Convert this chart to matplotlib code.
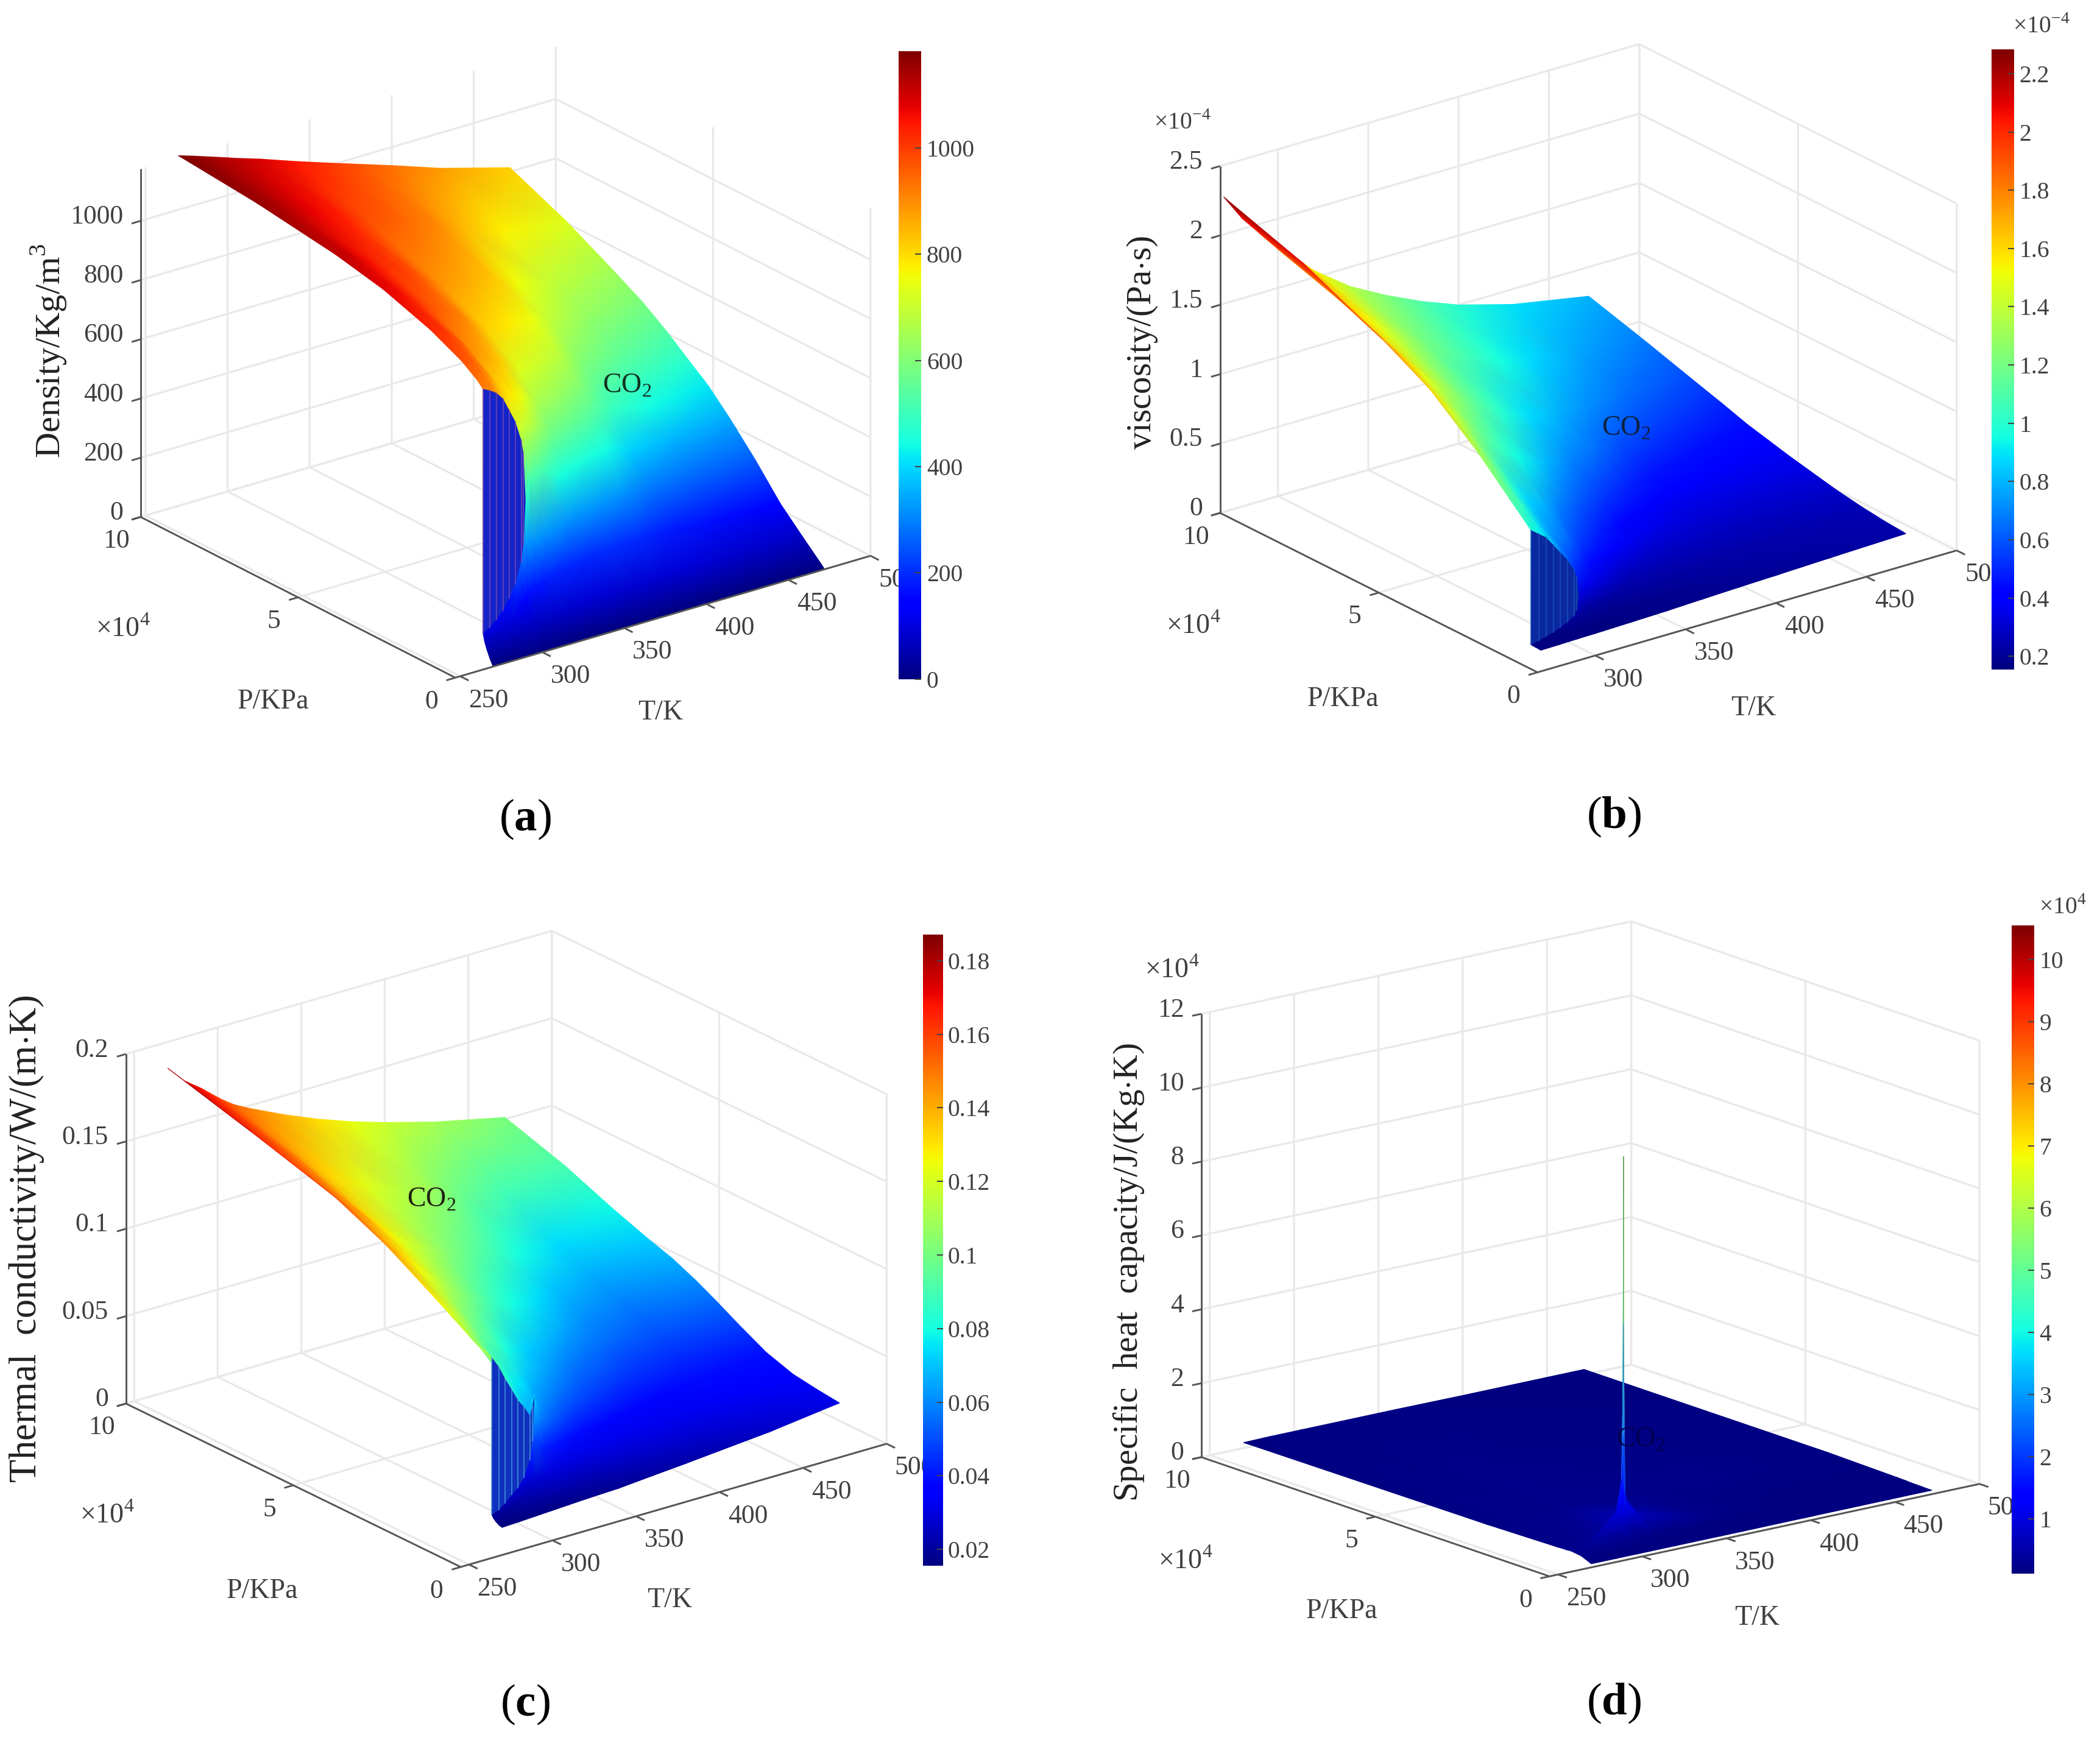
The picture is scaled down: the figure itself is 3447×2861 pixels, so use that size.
import numpy as np
import matplotlib
matplotlib.use('Agg')
import matplotlib.pyplot as plt
from matplotlib.colors import Normalize
from matplotlib.cm import ScalarMappable
from mpl_toolkits.mplot3d import proj3d

plt.rcParams['font.family'] = ['Liberation Serif', 'DejaVu Serif']
plt.rcParams['mathtext.fontset'] = 'custom'
plt.rcParams['mathtext.rm'] = 'Liberation Serif'
plt.rcParams['mathtext.bf'] = 'Liberation Serif:bold'
plt.rcParams['grid.color'] = '#e9e9e9'
plt.rcParams['grid.linewidth'] = 0.8

# mesh shared by density, viscosity and conductivity: one row of pressures per
# temperature, columns 4 and 5 sit on either side of the saturation jump
T_grid = [270, 280, 290, 300, 304, 310, 320, 340, 360, 380, 400, 430, 472]
P_grid = [
    [100, 1000, 2000, 2700, 3200, 3210, 5000, 10000, 20000, 35000, 50000, 75000, 100000],
    [100, 1000, 2000, 3300, 4160, 4170, 6000, 11000, 20000, 35000, 50000, 75000, 100000],
    [100, 1000, 2500, 4300, 5320, 5330, 7000, 12000, 20000, 35000, 50000, 75000, 100000],
    [100, 1000, 3000, 5400, 6700, 6710, 8500, 13000, 22000, 35000, 50000, 75000, 100000],
    [100, 1000, 3000, 6000, 7300, 7400, 9000, 13000, 22000, 35000, 50000, 75000, 100000],
    [100, 1000, 3500, 6500, 8000, 8800, 10500, 14000, 22000, 35000, 50000, 75000, 100000],
    [100, 1000, 4000, 7500, 9300, 10800, 13000, 17000, 24000, 35000, 50000, 75000, 100000],
    [100, 1000, 5000, 9000, 12000, 15000, 18000, 22000, 28000, 38000, 52000, 75000, 100000],
    [100, 1000, 5000, 10000, 14000, 18000, 22000, 26000, 32000, 42000, 55000, 75000, 100000],
    [100, 1000, 5500, 11000, 16000, 21000, 26000, 30000, 36000, 45000, 57000, 75000, 100000],
    [100, 1000, 6000, 12000, 18000, 24000, 30000, 34000, 40000, 50000, 60000, 78000, 100000],
    [100, 1000, 6000, 13000, 20000, 27000, 33000, 38000, 44000, 54000, 64000, 80000, 100000],
    [100, 1000, 7000, 14000, 22000, 30000, 37000, 43000, 50000, 58000, 68000, 82000, 100000],
]

density = [
    [2, 21, 47, 70, 95, 920, 940, 978, 1030, 1085, 1120, 1158, 1183],
    [1.9, 20, 43, 78, 120, 885, 905, 948, 1005, 1060, 1098, 1140, 1165],
    [1.85, 19, 50, 100, 170, 805, 825, 890, 950, 1015, 1062, 1112, 1146],
    [1.8, 18.6, 62, 150, 270, 680, 735, 815, 890, 970, 1025, 1085, 1127],
    [1.77, 18, 60, 170, 330, 467, 700, 790, 875, 955, 1012, 1075, 1119],
    [1.74, 17.8, 68, 170, 310, 520, 700, 775, 855, 940, 1000, 1062, 1108],
    [1.67, 17, 78, 185, 320, 520, 660, 745, 825, 905, 970, 1040, 1090],
    [1.57, 16, 90, 190, 310, 450, 560, 650, 730, 810, 885, 975, 1050],
    [1.48, 15, 82, 200, 320, 455, 560, 630, 705, 785, 860, 945, 1012],
    [1.4, 14, 85, 195, 315, 440, 545, 605, 675, 750, 825, 905, 975],
    [1.33, 13.4, 88, 180, 285, 390, 490, 540, 605, 690, 755, 850, 938],
    [1.23, 12.4, 78, 165, 265, 365, 440, 495, 550, 625, 685, 775, 880],
    [1.13, 11.3, 72, 145, 250, 345, 420, 470, 530, 590, 650, 730, 814],
]

viscosity = [
    [.15, .152, .153, .154, .155, .98, 1.02, 1.13, 1.35, 1.63, 1.82, 2.08, 2.27],
    [.152, .155, .157, .162, .165, .88, .91, 1.01, 1.18, 1.46, 1.66, 1.90, 2.08],
    [.155, .157, .16, .17, .18, .72, .76, .85, 1.0, 1.3, 1.52, 1.74, 1.93],
    [.157, .16, .165, .18, .21, .54, .60, .71, .88, 1.15, 1.38, 1.60, 1.78],
    [.158, .16, .166, .185, .23, .32, .53, .67, .84, 1.10, 1.33, 1.56, 1.74],
    [.16, .162, .17, .19, .22, .36, .50, .63, .80, 1.04, 1.27, 1.50, 1.68],
    [.163, .165, .175, .195, .23, .34, .44, .56, .71, .94, 1.16, 1.39, 1.55],
    [.17, .174, .186, .205, .24, .31, .40, .48, .60, .80, 1.0, 1.2, 1.36],
    [.18, .183, .195, .215, .25, .30, .37, .43, .53, .70, .88, 1.07, 1.22],
    [.189, .192, .205, .225, .255, .30, .36, .41, .50, .64, .79, .96, 1.10],
    [.197, .2, .215, .235, .265, .305, .35, .40, .47, .60, .72, .88, 1.0],
    [.21, .213, .225, .245, .275, .315, .355, .39, .45, .55, .65, .77, .89],
    [.226, .229, .24, .26, .29, .33, .365, .40, .44, .50, .57, .67, .79],
]

conductivity = [
    [.0156, .016, .0172, .0185, .020, .11, .112, .116, .128, .145, .158, .172, .185],
    [.016, .0165, .0175, .0195, .023, .094, .097, .104, .118, .135, .148, .162, .175],
    [.0165, .017, .0185, .022, .028, .078, .082, .09, .107, .126, .14, .155, .168],
    [.017, .0175, .02, .026, .04, .065, .069, .08, .097, .117, .13, .147, .160],
    [.0172, .0176, .02, .028, .05, .075, .067, .076, .093, .113, .127, .143, .157],
    [.0175, .018, .021, .029, .043, .058, .066, .074, .089, .108, .122, .138, .153],
    [.018, .0185, .0225, .03, .04, .054, .06, .069, .081, .1, .116, .132, .148],
    [.0187, .0193, .0245, .031, .039, .048, .056, .064, .072, .088, .104, .122, .139],
    [.0203, .021, .026, .031, .038, .046, .053, .059, .068, .08, .096, .114, .131],
    [.0218, .0225, .027, .032, .038, .045, .052, .057, .064, .075, .088, .106, .124],
    [.0235, .024, .028, .033, .038, .045, .051, .056, .061, .07, .08, .098, .118],
    [.026, .0265, .03, .034, .039, .045, .05, .054, .059, .067, .074, .09, .11],
    [.031, .0312, .0325, .0345, .0395, .0475, .055, .061, .067, .072, .079, .09, .101],
]

# heat capacity needs its own grid, the peak is very narrow
T_cp = [270, 285, 300, 303, 303.9, 304.1, 304.3, 305, 308, 320, 360, 400, 472]
P_cp = [100, 3000, 6000, 7000, 7300, 7370, 7390, 7420, 7600, 8000, 10000, 30000, 100000]
heat_capacity = [
    [.09, .21, .25, .24, .24, .24, .24, .24, .24, .24, .23, .19, .15],
    [.09, .15, .32, .31, .30, .30, .30, .30, .30, .29, .26, .20, .16],
    [.09, .13, .35, .90, .95, 1.0, 1.0, .95, .80, .60, .40, .21, .16],
    [.09, .13, .30, .80, 1.3, 1.6, 1.8, 1.6, 1.2, .85, .48, .22, .16],
    [.09, .13, .28, .70, 1.4, 3.0, 4.5, 3.2, 1.4, .9, .5, .22, .16],
    [.09, .12, .28, .70, 1.6, 6.0, 10.55, 6.2, 1.5, .95, .5, .22, .16],
    [.09, .12, .26, .65, 1.4, 3.2, 4.8, 3.5, 1.4, .9, .5, .22, .16],
    [.09, .12, .25, .55, .85, 1.0, 1.2, 1.3, 1.5, 1.05, .52, .22, .16],
    [.09, .12, .22, .40, .55, .65, .70, .72, .90, 1.15, .6, .23, .16],
    [.09, .11, .17, .22, .25, .26, .26, .27, .29, .33, .6, .24, .16],
    [.09, .1, .13, .15, .155, .16, .16, .16, .165, .17, .21, .23, .16],
    [.095, .1, .12, .125, .13, .13, .13, .13, .13, .135, .15, .2, .15],
    [.1, .105, .11, .115, .115, .115, .115, .115, .12, .12, .125, .16, .15],
]

# saturation curve, the wall seen at the front of panels a, b, c
sat_T = [270, 275, 280, 285, 290, 295, 300, 302, 304]
sat_P = [3200, 3630, 4160, 4700, 5320, 5990, 6710, 7030, 7380]
sat_density_vap = [95, 105, 120, 140, 170, 205, 270, 320, 467]
sat_density_liq = [920, 905, 885, 855, 805, 755, 680, 630, 467]
sat_visc_vap = [.155, .16, .165, .17, .18, .19, .21, .24, .32]
sat_visc_liq = [.98, .93, .88, .80, .72, .64, .54, .48, .32]
sat_cond_vap = [.02, .021, .023, .026, .028, .032, .04, .05, .075]
sat_cond_liq = [.11, .103, .094, .086, .078, .072, .065, .07, .075]

T_ticks = [250, 300, 350, 400, 450, 500]
T_ticks_b = [300, 350, 400, 450, 500]
P_ticks = [0, 50000, 100000]
P_labels = ['0', '5', '10']
density_ticks = [0, 200, 400, 600, 800, 1000]
visc_ticks = [0, .5, 1, 1.5, 2, 2.5]
cond_ticks = [0, .05, .1, .15, .2]
cp_ticks = [0, 2, 4, 6, 8, 10, 12]

density_cbar = [0, 200, 400, 600, 800, 1000]
visc_cbar = [.2, .4, .6, .8, 1, 1.2, 1.4, 1.6, 1.8, 2, 2.2]
cond_cbar = [.02, .04, .06, .08, .1, .12, .14, .16, .18]
cp_cbar = [1, 2, 3, 4, 5, 6, 7, 8, 9, 10]

W, H = 3447, 2861
S = W / 1568  # layout below is measured on the 1568 wide picture
TXT = '#404040'

fig = plt.figure(figsize=(W / 300, H / 300), dpi=300)
over = fig.add_axes([0, 0, 1, 1], zorder=5)
over.set_xlim(0, W)
over.set_ylim(H, 0)
over.set_axis_off()


def project(ax, t, p, z):
    x, y, _ = proj3d.proj_transform(np.ravel(t), np.ravel(p), np.ravel(z), ax.get_proj())
    d = ax.transData.transform(np.column_stack([x, y]))
    return d[:, 0].reshape(np.shape(t)), H - d[:, 1].reshape(np.shape(t))


def make_axes(front, left, right, zh, tlim, zlim, tticks, zticks):
    tx, tv = right[0] - front[0], front[1] - right[1]
    px, pv = front[0] - left[0], front[1] - left[1]
    se = np.sqrt(tv / tx * pv / px)
    tan_phi = np.sqrt((tv / tx) / (pv / px))
    phi = np.arctan(tan_phi)
    e = np.arcsin(se)

    ax = fig.add_axes([.3, .3, .4, .4], projection='3d', proj_type='ortho', zorder=1)
    ax.view_init(elev=np.degrees(e), azim=-90 - np.degrees(phi))
    ax.set_box_aspect((tx / np.cos(phi), px / np.sin(phi), zh / np.cos(e)))
    ax.set_xlim(tlim, 500, view_margin=0)
    ax.set_ylim(0, 100000, view_margin=0)
    ax.set_zlim(0, zlim, view_margin=0)
    ax.set_xticks(tticks)
    ax.set_yticks(P_ticks)
    ax.set_zticks(zticks)
    ax.set_xticklabels([])
    ax.set_yticklabels([])
    ax.set_zticklabels([])
    for a in (ax.xaxis, ax.yaxis, ax.zaxis):
        a.line.set_color((0, 0, 0, 0))
        a.set_pane_color((1, 1, 1, 1))
        a.pane.set_edgecolor((1, 1, 1, 0))
        a._axinfo['tick']['inward_factor'] = 0
        a._axinfo['tick']['outward_factor'] = 0

    # move the box onto the measured corners
    ax.apply_aspect()
    x, y = project(ax, [tlim, 500], [0, 0], [0, 0])
    pos = ax.get_position()
    k = tx * S / np.hypot(x[1] - x[0], 0)
    ax.set_position([pos.x0, pos.y0, pos.width * k, pos.height * k])
    ax.apply_aspect()
    x, y = project(ax, [tlim], [0], [0])
    pos = ax.get_position()
    ax.set_position([pos.x0 + (front[0] * S - x[0]) / W,
                     pos.y0 - (front[1] * S - y[0]) / H, pos.width, pos.height])
    ax.apply_aspect()
    return ax


def draw_frame(ax, tlim, zlim, tticks, zticks, zfmt, tk=7):
    line = dict(color='#555555', lw=0.7, solid_capstyle='butt')
    x, y = project(ax, [500, tlim, tlim], [0, 0, 100000], [0, 0, 0])
    over.plot(x, y, **line)
    x, y = project(ax, [tlim, tlim], [100000, 100000], [0, zlim])
    over.plot(x, y, **line)

    # outward tick directions, unit vectors on the screen
    x, y = project(ax, [tlim, 500, tlim], [0, 0, 100000], [0, 0, 0])
    tdir = np.array([x[1] - x[0], y[1] - y[0]])
    tdir = tdir / np.hypot(*tdir)
    pdir = np.array([x[2] - x[0], y[2] - y[0]])
    pdir = pdir / np.hypot(*pdir)

    for t in tticks:
        x, y = project(ax, [t], [0], [0])
        over.plot([x[0], x[0] - pdir[0] * tk * S], [y[0], y[0] - pdir[1] * tk * S], **line)
        over.text(x[0] + 21 * S, y[0] + 18 * S, str(t), ha='center', va='center', fontsize=10.5, color=TXT)
    for p, lab in zip(P_ticks, P_labels):
        x, y = project(ax, [tlim], [p], [0])
        over.plot([x[0], x[0] - tdir[0] * tk * S], [y[0], y[0] - tdir[1] * tk * S], **line)
        over.text(x[0] - 18 * S, y[0] + 18 * S, lab, ha='center', va='center', fontsize=10.5, color=TXT)
    for z in zticks:
        x, y = project(ax, [tlim], [100000], [z])
        over.plot([x[0], x[0] - tdir[0] * tk * S], [y[0], y[0] - tdir[1] * tk * S], **line)
        over.text(x[0] - 13 * S, y[0] - 3 * S, zfmt(z), ha='right', va='center', fontsize=10.5, color=TXT)


def draw_surface(ax, ts, ps, table, norm):
    zz = np.array(table, dtype=float)
    pp = np.array(ps, dtype=float)
    if pp.ndim == 1:
        pp = np.tile(pp, (len(ts), 1))
    tt = np.tile(np.array(ts, dtype=float)[:, None], (1, zz.shape[1]))
    x, y = project(ax, tt, pp, zz)
    # far corner first so the near part ends on top
    over.pcolormesh(x[::-1, ::-1], y[::-1, ::-1], zz[::-1, ::-1], shading='gouraud', cmap='jet', norm=norm)


def draw_wall(ax, vap, liq, fill, line_color):
    xl, yl = project(ax, sat_T, sat_P, liq)
    xv, yv = project(ax, sat_T, sat_P, vap)
    over.fill(np.r_[xl, xv[::-1]], np.r_[yl, yv[::-1]], color=fill, lw=0)
    for i in range(len(sat_T)):
        over.plot([xl[i], xv[i]], [yl[i], yv[i]], color=line_color, lw=0.5, alpha=0.6)


def colorbar(x0, x1, y0, y1, vmin, vmax, ticks, fmt):
    cax = fig.add_axes([x0 * S / W, 1 - y1 * S / H, (x1 - x0) * S / W, (y1 - y0) * S / H], zorder=8)
    cb = fig.colorbar(ScalarMappable(Normalize(vmin, vmax), 'jet'), cax=cax)
    cb.outline.set_visible(False)
    cb.set_ticks(ticks)
    cb.set_ticklabels([fmt(v) for v in ticks])
    cb.ax.tick_params(direction='in', length=2.5, width=0.5, color='#444444', labelsize=9.5, labelcolor=TXT, pad=2)


def put(x, y, s, size=11, **kw):
    kw.setdefault('color', TXT)
    over.text(x * S, y * S, s, fontsize=size, ha='center', va='center', **kw)


num = lambda v: f'{v:g}'

# panel a
norm = Normalize(0, 1183)
ax = make_axes((340, 506), (105, 386), (650, 415), 260, 247, 1176, T_ticks, density_ticks)
draw_frame(ax, 247, 1176, T_ticks, density_ticks, num)
draw_surface(ax, T_grid, P_grid, density, norm)
draw_wall(ax, sat_density_vap, sat_density_liq, '#1424c8', '#8a4fb0')
colorbar(671, 688, 38, 507, 0, 1183, density_cbar, num)
put(468, 288, 'CO$_2$', color='#103020')
put(204, 524, 'P/KPa')
put(493, 532, 'T/K')
put(36, 262, 'Density/Kg/m$^3$', 14, rotation=90, color='#222222')
put(92, 470, r'$\times$10$^4$')
put(392, 612, r'($\mathbf{a}$)', 18, color='black')

# panel b
norm = Normalize(.154, 2.283)
ax = make_axes((1148, 502), (911, 383), (1461, 411), 259, 268, 2.5, T_ticks_b, visc_ticks)
draw_frame(ax, 268, 2.5, T_ticks_b, visc_ticks, num)
draw_surface(ax, T_grid, P_grid, viscosity, norm)
draw_wall(ax, sat_visc_vap, sat_visc_liq, '#0a28a0', '#1c5ac0')
colorbar(1487, 1504, 37, 500, .154, 2.283, visc_cbar, num)
put(1214, 320, 'CO$_2$', color='#102040')
put(1003, 522, 'P/KPa')
put(1309, 529, 'T/K')
put(853, 256, 'viscosity/(Pa$\\cdot$s)', 13.7, rotation=90, color='#222222')
put(891, 468, r'$\times$10$^4$')
put(883, 92, r'$\times$10$^{-4}$', 9.5)
put(1524, 20, r'$\times$10$^{-4}$', 9.5)
put(1205, 610, r'($\mathbf{b}$)', 18, color='black')

# panel c
norm = Normalize(.0156, .187)
ax = make_axes((344, 1170), (94, 1048), (662, 1078), 261, 245, .2, T_ticks, cond_ticks)
draw_frame(ax, 245, .2, T_ticks, cond_ticks, num)
draw_surface(ax, T_grid, P_grid, conductivity, norm)
draw_wall(ax, sat_cond_vap, sat_cond_liq, '#1030c0', '#50b0e0')
colorbar(689, 704, 698, 1169, .0156, .187, cond_cbar, num)
put(322, 896, 'CO$_2$', color='#202010')
put(196, 1188, 'P/KPa')
put(500, 1195, 'T/K')
put(20, 925, 'Thermal  conductivity/W/(m$\\cdot$K)', 15, rotation=90, color='#222222')
put(80, 1132, r'$\times$10$^4$')
put(392, 1273, r'($\mathbf{c}$)', 18, color='black')

# panel d
norm = Normalize(.116, 10.55)
ax = make_axes((1157, 1177), (897, 1088), (1478, 1108), 331, 245, 12, T_ticks, cp_ticks)
draw_frame(ax, 245, 12, T_ticks, cp_ticks, num)
draw_surface(ax, T_cp, P_cp, heat_capacity, norm)
put(1225, 1075, 'CO$_2$', color='#000050')
colorbar(1502, 1519, 691, 1175, .116, 10.55, cp_cbar, num)
put(1002, 1203, 'P/KPa')
put(1312, 1208, 'T/K')
put(843, 950, 'Specific  heat  capacity/J/(Kg$\\cdot$K)', 13.8, rotation=90, color='#222222')
put(885, 1166, r'$\times$10$^4$')
put(875, 725, r'$\times$10$^4$')
put(1540, 678, r'$\times$10$^4$', 9.5)
put(1205, 1272, r'($\mathbf{d}$)', 18, color='black')

fig.savefig('out.png', dpi=300)
